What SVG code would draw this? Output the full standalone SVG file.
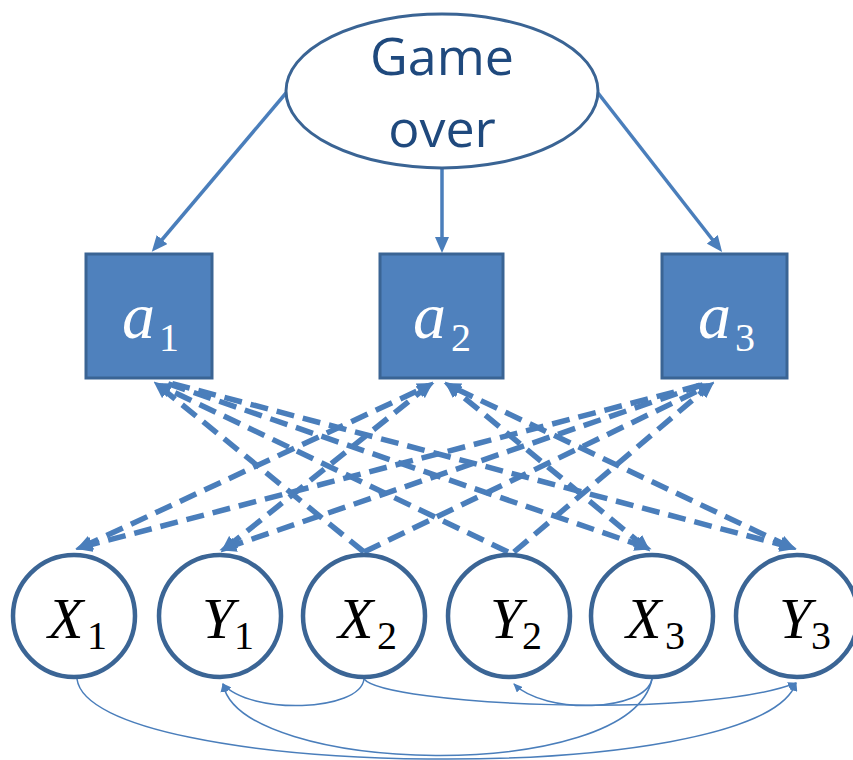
<svg xmlns="http://www.w3.org/2000/svg" width="853" height="760" viewBox="0 0 853 760">
<style>
.sq{fill:#4F81BD;stroke:#3A6494;stroke-width:3}
.ci{fill:#fff;stroke:#3B6595;stroke-width:4.5}
.ml{font-family:"Liberation Serif",serif;font-size:58px}
.al{font-family:"Liberation Serif",serif;font-size:66px;fill:#fff}
.it{font-style:italic}
.sub{font-size:40px;font-style:normal}
.solid{fill:none;stroke:#4A7EBB;stroke-width:3.5}
.dash{fill:none;stroke:#4A7EBB;stroke-width:5.5;stroke-dasharray:18 9}
.thin{fill:none;stroke:#4A7EBB;stroke-width:1.5}
</style>
<defs>
<marker id="hs" viewBox="0 0 16 14" refX="11" refY="7" markerWidth="16" markerHeight="14" markerUnits="userSpaceOnUse" orient="auto-start-reverse"><path d="M0,0L16,7L0,14z" fill="#4A7EBB"/></marker>
<marker id="hd" viewBox="0 0 17 15" refX="10" refY="7.5" markerWidth="17" markerHeight="15" markerUnits="userSpaceOnUse" orient="auto-start-reverse"><path d="M0,0L17,7.5L0,15z" fill="#4A7EBB"/></marker>
<marker id="ht" viewBox="0 0 9 8" refX="8" refY="4" markerWidth="9" markerHeight="8" markerUnits="userSpaceOnUse" orient="auto"><path d="M0,0L9,4L0,8z" fill="#4A7EBB"/></marker>
</defs>
<g id="connectors">
<path class="solid" d="M286,93L155,248" marker-end="url(#hs)"/>
<path class="solid" d="M442,168L442,248" marker-end="url(#hs)"/>
<path class="solid" d="M598,93L719,248" marker-end="url(#hs)"/>
<path class="dash" d="M82,547L428,386" marker-start="url(#hd)" marker-end="url(#hd)"/>
<path class="dash" d="M82,547L705,384" marker-start="url(#hd)"/>
<path class="dash" d="M226,548L428,386" marker-start="url(#hd)" marker-end="url(#hd)"/>
<path class="dash" d="M226,548L705,384" marker-start="url(#hd)"/>
<path class="dash" d="M364,552L159,386" marker-end="url(#hd)"/>
<path class="dash" d="M364,552L708,386" marker-end="url(#hd)"/>
<path class="dash" d="M508,552L161,386" marker-end="url(#hd)"/>
<path class="dash" d="M514,552L709,386" marker-end="url(#hd)"/>
<path class="dash" d="M645,547L166,383" marker-start="url(#hd)"/>
<path class="dash" d="M645,547L450,386" marker-start="url(#hd)" marker-end="url(#hd)"/>
<path class="dash" d="M790,547L170,383" marker-start="url(#hd)"/>
<path class="dash" d="M790,547L450,386" marker-start="url(#hd)" marker-end="url(#hd)"/>
<path class="thin" d="M77,679C90,780 760,790 796,683" marker-end="url(#ht)"/>
<path class="thin" d="M652,679C630,785 240,775 223,684" marker-end="url(#ht)"/>
<path class="thin" d="M364,679C360,712 250,715 223,684" marker-end="url(#ht)"/>
<path class="thin" d="M364,679C385,705 700,720 796,683" marker-end="url(#ht)"/>
<path class="thin" d="M652,679C645,712 545,715 514,684" marker-end="url(#ht)"/>
</g>
<g id="game-over">
<ellipse cx="442" cy="91" rx="156" ry="77" fill="#fff" stroke="#3A6494" stroke-width="3"/>
<text x="442" y="75" text-anchor="middle" font-family="'Open Sans',sans-serif" font-size="52" fill="#1F497D">Game</text>
<text x="442" y="147" text-anchor="middle" font-family="'Open Sans',sans-serif" font-size="52" fill="#1F497D">over</text>
</g>
<g id="a1"><rect class="sq" x="86" y="254" width="126" height="124"/><text class="al" y="338"><tspan class="it" x="122">a</tspan><tspan class="sub" x="159" dy="13">1</tspan></text></g>
<g id="a2"><rect class="sq" x="380" y="254" width="123" height="124"/><text class="al" y="338"><tspan class="it" x="413">a</tspan><tspan class="sub" x="451" dy="13">2</tspan></text></g>
<g id="a3"><rect class="sq" x="662" y="254" width="125" height="124"/><text class="al" y="338"><tspan class="it" x="698">a</tspan><tspan class="sub" x="735" dy="13">3</tspan></text></g>
<g id="X1"><circle class="ci" cx="74" cy="616" r="61"/><text class="ml" y="638"><tspan class="it" x="48">X</tspan><tspan class="sub" x="87" dy="11">1</tspan></text></g>
<g id="Y1"><circle class="ci" cx="220" cy="616" r="61"/><text class="ml" y="638"><tspan class="it" x="202">Y</tspan><tspan class="sub" x="234" dy="11">1</tspan></text></g>
<g id="X2"><circle class="ci" cx="364" cy="616" r="61"/><text class="ml" y="638"><tspan class="it" x="338">X</tspan><tspan class="sub" x="377" dy="11">2</tspan></text></g>
<g id="Y2"><circle class="ci" cx="509" cy="616" r="61"/><text class="ml" y="638"><tspan class="it" x="490">Y</tspan><tspan class="sub" x="522" dy="11">2</tspan></text></g>
<g id="X3"><circle class="ci" cx="652" cy="616" r="61"/><text class="ml" y="638"><tspan class="it" x="626">X</tspan><tspan class="sub" x="665" dy="11">3</tspan></text></g>
<g id="Y3"><circle class="ci" cx="797" cy="616" r="61"/><text class="ml" y="638"><tspan class="it" x="779">Y</tspan><tspan class="sub" x="811" dy="11">3</tspan></text></g>
</svg>
